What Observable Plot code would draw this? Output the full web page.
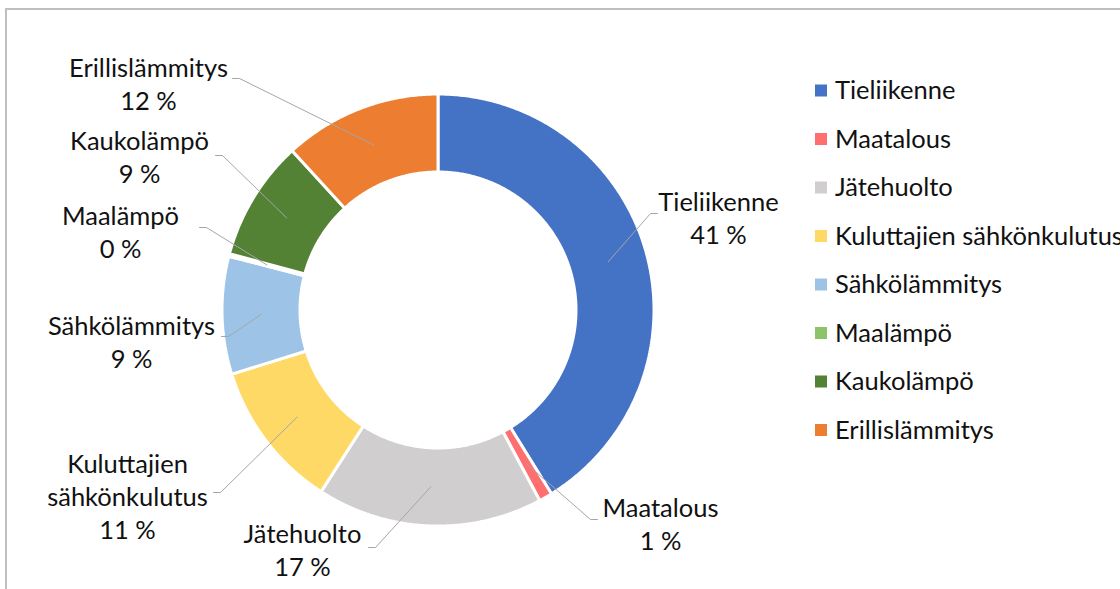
<!DOCTYPE html>
<html>
<head>
<meta charset="utf-8">
<script src="https://cdn.jsdelivr.net/npm/d3@7"></script>
<script src="https://cdn.jsdelivr.net/npm/@observablehq/plot@0.6"></script>
<style>
  html, body { margin: 0; padding: 0; background: #fff; }
  #wrap { position: relative; width: 1120px; height: 589px; overflow: hidden; }
  #frame { position: absolute; left: 5px; top: 8px; width: 1200px; height: 700px;
           border-top: 2px solid #bfbfbf; border-left: 2px solid #bfbfbf; pointer-events: none; }
  #chart { position: absolute; left: 0; top: 0; }
</style>
</head>
<body>
<div id="wrap"><div id="chart"></div><div id="frame"></div></div>
<script>
// ---- data ----
const categories = ["Tieliikenne", "Maatalous", "Jätehuolto", "Kuluttajien sähkönkulutus",
                    "Sähkölämmitys", "Maalämpö", "Kaukolämpö", "Erillislämmitys"];
const shares = [41.2, 1.0, 16.9, 11.1, 8.8, 0.2, 9.0, 11.8];
const colors = ["#4472C4", "#FF6F6F", "#D0CECE", "#FFD966", "#9DC3E6", "#8CC46A", "#548235", "#ED7D31"];
const labelTexts = ["Tieliikenne", "Maatalous", "Jätehuolto", "Kuluttajien\nsähkönkulutus",
                    "Sähkölämmitys", "Maalämpö", "Kaukolämpö", "Erillislämmitys"];

// ---- layout (pixels) ----
const W = 1120, H = 589;
const cx = 437.5, cy = 309.5, rOuter = 216, rInner = 138;
const FONT = "Lato, 'Open Sans', sans-serif";
const FS = 25.5;
// label block center x, block center y, leader elbow x, elbow y
const labelPos = [
  [718, 216, 657, 213],
  [660, 522, 597, 519],
  [302, 548, 368, 547],
  [127, 495, 213, 492],
  [131, 340, 221, 336],
  [120, 230, 199, 227],
  [139, 155, 215, 155],
  [148, 82, 232, 78]
];
const legend = {x0: 815, size: 12, textX: 834.5, y0: 90.5, step: 48.5};

// ---- geometry from data ----
const rows = categories.map((name, i) => ({name, value: shares[i], color: colors[i], i}));
const arcs = d3.pie().sort(null).value(d => d.value).startAngle(0).endAngle(2 * Math.PI)(rows);
const px = (a, r) => cx + r * Math.sin(a);
const py = (a, r) => cy - r * Math.cos(a);

const slicePts = [];
arcs.forEach(a => {
  const n = Math.max(2, Math.ceil((a.endAngle - a.startAngle) / (Math.PI / 360)));
  for (let k = 0; k <= n; k++) {
    const t = a.startAngle + (a.endAngle - a.startAngle) * k / n;
    slicePts.push({name: a.data.name, color: a.data.color, x: px(t, rOuter), y: py(t, rOuter)});
  }
  for (let k = n; k >= 0; k--) {
    const t = a.startAngle + (a.endAngle - a.startAngle) * k / n;
    slicePts.push({name: a.data.name, color: a.data.color, x: px(t, rInner), y: py(t, rInner)});
  }
});

const leaderPts = [];
const labels = [];
arcs.forEach((a, i) => {
  const mid = (a.startAngle + a.endAngle) / 2;
  const rm = (rOuter + rInner) / 2;
  const [lx, ly, ex, ey] = labelPos[i];
  const dir = ex > cx ? -1 : 1;
  leaderPts.push({name: a.data.name, x: ex, y: ey});
  leaderPts.push({name: a.data.name, x: ex + dir * 7, y: ey});
  leaderPts.push({name: a.data.name, x: px(mid, rm), y: py(mid, rm)});
  labels.push({x: lx, y: ly, text: labelTexts[i] + "\n" + Math.round(a.data.value) + " %"});
});

const legendRows = rows.map((d, i) => ({
  ...d, y: legend.y0 + i * legend.step
}));

const chart = Plot.plot({
  width: W, height: H,
  margin: 0,
  x: {type: "identity", axis: null},
  y: {type: "identity", axis: null},
  style: {fontFamily: FONT, background: "transparent"},
  marks: [
    Plot.line(slicePts, {x: "x", y: "y", z: "name", fill: "color", stroke: "white",
                         strokeWidth: 3, curve: "linear-closed", strokeLinejoin: "miter"}),
    Plot.line(leaderPts, {x: "x", y: "y", z: "name", stroke: "#a6a6a6", strokeWidth: 1}),
    Plot.text(labels, {x: "x", y: "y", text: "text", fontSize: FS, fill: "#111",
                       lineHeight: 1.3, textAnchor: "middle", lineAnchor: "middle"}),
    Plot.rect(legendRows, {x1: () => legend.x0, x2: () => legend.x0 + legend.size,
                           y1: d => d.y - legend.size / 2, y2: d => d.y + legend.size / 2,
                           fill: "color"}),
    Plot.text(legendRows, {x: () => legend.textX, y: "y", text: "name", fontSize: FS,
                           fill: "#111", textAnchor: "start", lineAnchor: "middle"})
  ]
});
document.getElementById("chart").appendChild(chart);
</script>
</body>
</html>
